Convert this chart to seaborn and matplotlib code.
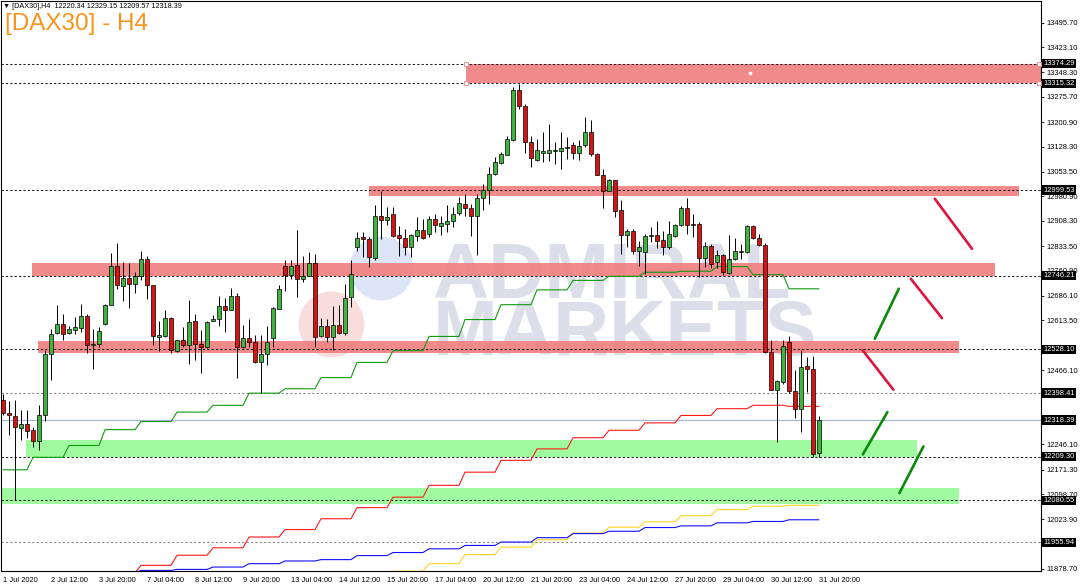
import numpy as np
import pandas as pd
import seaborn as sns
import matplotlib.pyplot as plt
from matplotlib import transforms

# ---- DAX30 H4 candles, 1 Jul 2020 04:00 .. 31 Jul 2020 20:00 ----
opens = [12378, 12340, 12330, 12295, 12307, 12290, 12255, 12332, 12513, 12576,
         12603, 12577, 12586, 12592, 12627, 12541, 12544, 12603, 12660, 12776,
         12716, 12740, 12722, 12744, 12796, 12717, 12565, 12566, 12620, 12524,
         12556, 12542, 12611, 12544, 12534, 12613, 12618, 12655, 12645, 12686,
         12534, 12561, 12549, 12490, 12513, 12560, 12648, 12774, 12747, 12779,
         12737, 12745, 12784, 12566, 12596, 12564, 12600, 12576, 12682, 12830,
         12859, 12855, 12798, 12924, 12911, 12929, 12865, 12857, 12832, 12863,
         12882, 12870, 12914, 12893, 12900, 12907, 12931, 12959, 12947, 12922,
         12976, 13000, 13048, 13079, 13103, 13149, 13297, 13248, 13143, 13089,
         13110, 13109, 13115, 13115, 13125, 13132, 13110, 13133, 13171, 13107,
         13045, 12998, 13028, 12939, 12865, 12877, 12818, 12816, 12863, 12865,
         12853, 12830, 12863, 12897, 12946, 12897, 12900, 12798, 12835, 12786,
         12806, 12755, 12796, 12817, 12816, 12893, 12858, 12838, 12520, 12408,
         12431, 12549, 12404, 12352, 12477, 12470, 12220.34]
highs = [12396, 12376, 12378, 12347, 12347, 12299, 12362, 12525, 12589, 12658,
         12633, 12596, 12623, 12663, 12633, 12589, 12594, 12661, 12814, 12843,
         12786, 12784, 12758, 12818, 12803, 12719, 12611, 12645, 12623, 12556,
         12594, 12673, 12633, 12586, 12613, 12630, 12687, 12679, 12710, 12694,
         12600, 12618, 12569, 12569, 12598, 12653, 12717, 12793, 12793, 12880,
         12803, 12816, 12811, 12621, 12618, 12657, 12658, 12722, 12791, 12875,
         12875, 12860, 12954, 12998, 12949, 12949, 12892, 12885, 12870, 12919,
         12914, 12924, 12929, 12924, 12954, 12949, 12979, 12988, 12959, 12988,
         13018, 13067, 13097, 13112, 13161, 13305, 13313, 13255, 13161, 13151,
         13171, 13196, 13141, 13171, 13158, 13141, 13148, 13215, 13207, 13109,
         13062, 13033, 13030, 12971, 12885, 12885, 12850, 12870, 12890, 12907,
         12878, 12909, 12900, 12951, 12977, 12929, 12905, 12847, 12840, 12821,
         12809, 12865, 12858, 12840, 12895, 12895, 12870, 12842, 12554, 12436,
         12554, 12567, 12467, 12527, 12505, 12508, 12329.15]
lows = [12332, 12273, 12081, 12258, 12266, 12238, 12230, 12317, 12436, 12574,
        12554, 12574, 12574, 12579, 12517, 12470, 12534, 12601, 12658, 12707,
        12671, 12651, 12694, 12732, 12676, 12542, 12522, 12564, 12517, 12521,
        12534, 12485, 12497, 12457, 12532, 12611, 12597, 12579, 12643, 12444,
        12532, 12534, 12487, 12398, 12480, 12534, 12646, 12700, 12737, 12682,
        12727, 12744, 12534, 12564, 12549, 12526, 12574, 12569, 12653, 12818,
        12801, 12771, 12791, 12855, 12895, 12860, 12803, 12806, 12801, 12850,
        12854, 12860, 12875, 12865, 12875, 12890, 12927, 12924, 12862, 12806,
        12939, 12957, 13043, 13077, 13102, 13146, 13240, 13109, 13069, 13087,
        13082, 13087, 13077, 13062, 13092, 13092, 13089, 13128, 13099, 13043,
        12946, 12996, 12919, 12811, 12830, 12809, 12776, 12752, 12845, 12828,
        12808, 12825, 12860, 12894, 12870, 12860, 12742, 12773, 12768, 12769,
        12747, 12750, 12793, 12796, 12813, 12855, 12833, 12518, 12406, 12253,
        12426, 12398, 12325, 12283, 12401, 12209.3, 12209.57]
closes = [12339, 12332, 12297, 12307, 12286, 12255, 12332, 12513, 12574, 12603,
          12574, 12587, 12593, 12627, 12541, 12544, 12581, 12658, 12776, 12719,
          12740, 12720, 12744, 12796, 12717, 12566, 12569, 12620, 12526, 12554,
          12542, 12610, 12544, 12534, 12610, 12618, 12655, 12645, 12686, 12534,
          12561, 12549, 12490, 12513, 12549, 12651, 12707, 12747, 12776, 12737,
          12745, 12784, 12564, 12596, 12564, 12600, 12576, 12680, 12752, 12857,
          12855, 12801, 12924, 12912, 12921, 12863, 12857, 12830, 12865, 12882,
          12857, 12914, 12895, 12902, 12909, 12929, 12961, 12947, 12922, 12977,
          13000, 13048, 13082, 13105, 13151, 13297, 13248, 13143, 13095, 13117,
          13115, 13117, 13117, 13125, 13128, 13110, 13131, 13171, 13107, 13045,
          12998, 13028, 12937, 12865, 12877, 12819, 12830, 12863, 12865, 12850,
          12832, 12868, 12895, 12947, 12897, 12896, 12799, 12835, 12781, 12806,
          12757, 12796, 12818, 12819, 12893, 12858, 12838, 12520, 12408, 12433,
          12537, 12404, 12352, 12475, 12470, 12219, 12318.39]

# bars per trading day (first day starts at 04:00)
day_bars = [5] + [6] * 22
# daily step indicators
green_daily = [12171, 12208, 12243, 12290, 12314, 12342, 12362, 12398, 12411, 12444,
               12489, 12524, 12566, 12616, 12660, 12704, 12732, 12744, 12756, 12759,
               12773, 12749, 12707]
red_daily = [np.nan, np.nan, np.nan, 11866, 11888, 11918, 11940, 11972, 11994, 12026,
             12059, 12090, 12125, 12164, 12199, 12233, 12266, 12288, 12310, 12332,
             12352, 12362, 12359]
blue_daily = [np.nan, np.nan, np.nan, 11866, 11873, 11876, 11883, 11893, 11901, 11905,
              11917, 11926, 11937, 11947, 11957, 11970, 11982, 11989, 12000, 12005,
              12014, 12018, 12023]
yellow_daily = [np.nan] * 10 + [11866, 11871, 11893, 11920, 11942, 11964, 11984, 12001,
                                12017, 12035, 12053, 12063, 12066]

# horizontal levels
black_levels = [13374.29, 13315.32, 12999.53, 12746.21, 12528.10, 12209.30, 12080.55]
grey_levels = [12398.41, 11955.94]
last_price = 12318.39

# support / resistance zones (bar index from, bar index to, low, high)
zone_from = [77.2, 61, 4.8, 5.8, 3.8, -0.5]
zone_to = [173, 169.3, 165.3, 159.3, 152.3, 159.3]
zone_low = [13315.32, 12980.5, 12746.21, 12516.5, 12209.3, 12070.5]
zone_high = [13374.29, 13011.0, 12783.0, 12551.1, 12258.0, 12118.0]
zone_kind = ['res', 'res', 'res', 'res', 'sup', 'sup']

# hand drawn arrows (bar index, price)
arrow_x0 = [155.3, 151.3, 143.3, 145.3, 143.3, 149.4]
arrow_p0 = [12973.7, 12736.8, 12524.5, 12559.1, 12216.5, 12101.9]
arrow_x1 = [161.5, 156.5, 148.4, 149.3, 147.4, 153.4]
arrow_p1 = [12825.6, 12620.1, 12408.1, 12707.2, 12341.8, 12240.2]
arrow_kind = ['down', 'down', 'down', 'up', 'up', 'up']

ytick_values = [13495.70, 13423.10, 13348.30, 13275.70, 13200.90, 13128.30, 13053.50,
                12980.90, 12908.30, 12833.50, 12760.90, 12686.10, 12613.50, 12538.70,
                12466.10, 12391.30, 12318.70, 12246.10, 12171.30, 12098.70, 12023.90,
                11951.30, 11878.70]
# scale labels that sit fully under a price tag are not visible
hidden_ticks = [12538.70, 12391.30, 12318.70, 11951.30]
xtick_labels = ['1 Jul 2020', '2 Jul 12:00', '3 Jul 20:00', '7 Jul 04:00', '8 Jul 12:00',
                '9 Jul 20:00', '13 Jul 04:00', '14 Jul 12:00', '15 Jul 20:00',
                '17 Jul 04:00', '20 Jul 12:00', '21 Jul 20:00', '23 Jul 04:00',
                '24 Jul 12:00', '27 Jul 20:00', '29 Jul 04:00', '30 Jul 12:00',
                '31 Jul 20:00']

sns.set_theme(style='white')
plt.rcParams['font.family'] = ['Liberation Sans', 'DejaVu Sans']

W, H = 1080, 587
fig = plt.figure(figsize=(W / 100, H / 100), dpi=100)
ax = fig.add_axes([0.5 / W, 1 - 571 / H, 1040.5 / W, 570.5 / H])
ax.set_xlim(-0.42, 173.0)
ax.set_ylim(11871.3, 13560.9)

idx = np.arange(len(opens))
o, hi, lo, c = (np.array(a, dtype=float) for a in (opens, highs, lows, closes))

# watermark
ax.scatter([0.318], [0.433], s=2256, color='#f9dcdc', transform=ax.transAxes, zorder=0.5, lw=0)
ax.scatter([0.366], [0.531], s=2116, color='#dbe5f6', transform=ax.transAxes, zorder=0.6, lw=0)
ax.text(0.415, 0.480, 'ADMIRAL', transform=ax.transAxes, fontsize=56, fontweight='bold',
        color='#dcdfe9', family='Liberation Sans', zorder=0.7, va='baseline')
ax.text(0.415, 0.379, 'MARKETS', transform=ax.transAxes, fontsize=56, fontweight='bold',
        color='#dcdfe9', family='Liberation Sans', zorder=0.7, va='baseline')

# zones
for x0, x1, zl, zh, k in zip(zone_from, zone_to, zone_low, zone_high, zone_kind):
    col = '#f08080' if k == 'res' else '#98fb98'
    ax.fill_between([x0, x1], zl, zh, color=col, lw=0, alpha=0.92, zorder=1)

# selected-object handles on the top zone
ax.scatter([zone_from[0]] * 2 + [172.6] * 2, [zone_low[0], zone_high[0]] * 2, marker='s', s=6,
           facecolor='white', edgecolor='#f08080', lw=0.6, zorder=6, clip_on=False)
ax.scatter([124.5], [(zone_low[0] + zone_high[0]) / 2], s=3, color='white', zorder=6)

# level lines
for lv in black_levels:
    ax.axhline(lv, color='#222222', lw=0.75, ls=(0, (2.2, 2.0)), zorder=2)
for lv in grey_levels:
    ax.axhline(lv, color='#8a8a8a', lw=0.75, ls=(0, (2.2, 2.0)), zorder=2)
ax.axhline(last_price, color='#a3b4cc', lw=0.8, zorder=2)

# daily step indicators
steps = pd.DataFrame({
    'bar': idx,
    'green': np.repeat(green_daily, day_bars),
    'red': np.repeat(red_daily, day_bars),
    'blue': np.repeat(blue_daily, day_bars),
    'yellow': np.repeat(yellow_daily, day_bars),
})
for col, colour in [('yellow', '#ffd21f'), ('blue', '#1010ff'), ('red', '#ff1a1a'), ('green', '#119911')]:
    d = steps.dropna(subset=[col])
    sns.lineplot(data=d, x='bar', y=col, color=colour, lw=0.8, estimator=None,
                 sort=False, ax=ax, zorder=3)

# candles
up = c >= o
ax.vlines(idx, lo, hi, color='black', lw=0.7, zorder=4)
ax.bar(idx[up], np.maximum(c[up] - o[up], 1.5), bottom=o[up], width=0.62,
       color='#41b341', edgecolor='black', lw=0.5, zorder=5)
ax.bar(idx[~up], np.maximum(o[~up] - c[~up], 1.5), bottom=c[~up], width=0.62,
       color='#d41515', edgecolor='black', lw=0.5, zorder=5)

# hand drawn arrows
for x0, p0, x1, p1, k in zip(arrow_x0, arrow_p0, arrow_x1, arrow_p1, arrow_kind):
    ax.plot([x0, x1], [p0, p1], color='#dc143c' if k == 'down' else '#0a8a0a',
            lw=1.9, zorder=6)

# axes styling
ax.set_xlabel('')
ax.set_ylabel('')
ax.set_xticks(np.arange(0, len(opens), 8))
ax.set_xticklabels(xtick_labels, fontsize=5.4)
for lab in ax.get_xticklabels():
    lab.set_horizontalalignment('left')
ax.yaxis.tick_right()
ax.set_yticks(ytick_values)
ax.set_yticklabels(['' if v in hidden_ticks else f'{v:.2f}' for v in ytick_values],
                   fontsize=5.4)
ax.tick_params(axis='both', direction='out', length=2.5, width=0.6, color='black',
               pad=1.5, labelcolor='black')
ax.tick_params(axis='x', pad=2)
for s in ax.spines.values():
    s.set_color('black')
    s.set_linewidth(0.8)

# price tags on the right scale
trans = transforms.blended_transform_factory(ax.transAxes, ax.transData)
for lv in black_levels + grey_levels + [last_price]:
    ax.text(1.0025, lv, f'{lv:.2f}', transform=trans, fontsize=5.4, color='white',
            va='center', ha='left', clip_on=False, zorder=10,
            bbox=dict(boxstyle='square,pad=0.15', fc='black', ec='none'))

# header
fig.text(3 / W, 1 - 7 / H, '\u25bc [DAX30],H4  12220.34 12329.15 12209.57 12318.39',
         fontsize=5.2, va='center', ha='left', color='black')
fig.text(5 / W, 1 - 24 / H, '[DAX30] - H4', fontsize=17.5, color='#f7941d',
         va='center', ha='left', family='Liberation Sans')

fig.savefig('out.png', dpi=100)
